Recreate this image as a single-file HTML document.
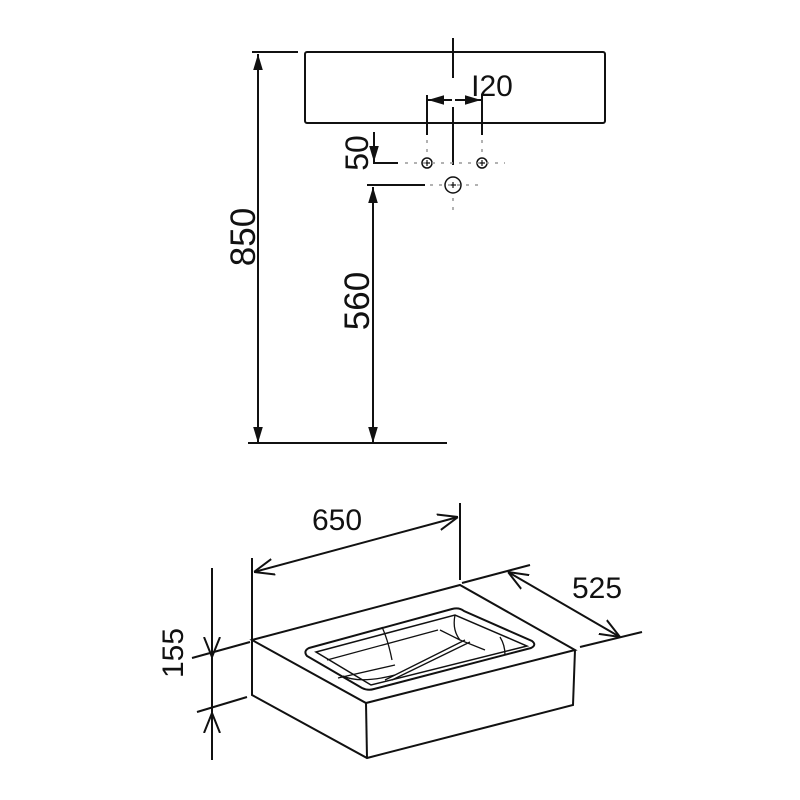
<!DOCTYPE html>
<html><head><meta charset="utf-8"><style>
html,body{margin:0;padding:0;background:#fff;}
svg{display:block}
text{font-family:"Liberation Sans",sans-serif;fill:#111}
</style></head><body>
<svg width="800" height="800" viewBox="0 0 800 800" xmlns="http://www.w3.org/2000/svg">
<defs>
<marker id="a" viewBox="0 0 10 10" refX="10" refY="5" markerWidth="8" markerHeight="8" orient="auto-start-reverse"><path d="M0,2 L10,5 L0,8 z" fill="#111"/></marker>
<marker id="o" viewBox="0 0 10 10" refX="10" refY="5" markerWidth="10" markerHeight="10" orient="auto-start-reverse"><path d="M0,1 L10,5 L0,9" fill="none" stroke="#111" stroke-width="1"/></marker>
</defs>
<g stroke="#111" stroke-width="2" fill="none">
<!-- top view -->
<rect x="305" y="52" width="300" height="71" rx="2"/>
<line x1="252" y1="52" x2="298" y2="52"/>
<line x1="258" y1="54" x2="258" y2="443" marker-start="url(#a)" marker-end="url(#a)"/>
<line x1="248" y1="443" x2="447" y2="443"/>
<line x1="373" y1="187" x2="373" y2="443" marker-start="url(#a)" marker-end="url(#a)"/>
<line x1="374" y1="132" x2="374" y2="162" marker-end="url(#a)"/>
<line x1="373" y1="163" x2="398" y2="163"/>
<line x1="367" y1="185" x2="425" y2="185"/>
<line x1="453" y1="38" x2="453" y2="78"/>
<line x1="453" y1="107" x2="453" y2="165"/>
<line x1="427" y1="95" x2="427" y2="135"/>
<line x1="482" y1="95" x2="482" y2="135"/>
<line x1="428" y1="100" x2="452" y2="100" marker-start="url(#a)"/>
<line x1="455" y1="100" x2="481" y2="100" marker-end="url(#a)"/>
<circle cx="427" cy="163" r="5" stroke-width="1.5"/>
<circle cx="482" cy="163" r="5" stroke-width="1.5"/>
<circle cx="453" cy="185" r="8" stroke-width="1.5"/>
<path d="M450 185h6M453 182v6M424 163h6M427 160v6M479 163h6M482 160v6" stroke-width="1.2"/>
<g stroke="#999" stroke-width="1.5" stroke-dasharray="3 6">
<line x1="405" y1="163" x2="505" y2="163"/>
<line x1="427" y1="140" x2="427" y2="156"/>
<line x1="482" y1="140" x2="482" y2="156"/>
<line x1="430" y1="185" x2="480" y2="185"/>
<line x1="453" y1="198" x2="453" y2="210"/>
</g>
<!-- iso box -->
<path d="M252 640 L460 585 L575 650 L366 703 Z"/>
<path d="M252 640 L252 695 L367 758 L573 705 L575 650"/>
<line x1="366" y1="703" x2="367" y2="758"/>
<!-- basin -->
<path d="M309 648 L452 609 Q459 607 464 611 L532 641 Q537 645 531 648 L374 689 Q368 691 362 688 L307 656 Q303 651 309 648 Z"/>
<path d="M316 652 L455 615 L527 646 L371 685 Z" stroke-width="1.5"/>
<path d="M327 660 L438 630 M338 678 L395 665 M455 615 Q452 630 460 640 L485 650 M440 630 L460 640 M385 680 L465 640 M392 680 L470 642 M382 627 Q388 640 392 660 M500 637 Q505 645 505 655" stroke-width="1.3"/>
<path d="M343 676 Q360 684 395 675" stroke-width="1.3"/>
<!-- 650 -->
<line x1="252" y1="558" x2="252" y2="640"/>
<line x1="460" y1="503" x2="460" y2="580"/>
<line x1="254" y1="572" x2="458" y2="517" marker-start="url(#o)" marker-end="url(#o)"/>
<!-- 525 -->
<line x1="462" y1="583" x2="530" y2="565"/>
<line x1="580" y1="647" x2="642" y2="632"/>
<line x1="508" y1="572" x2="620" y2="637" marker-start="url(#o)" marker-end="url(#o)"/>
<!-- 155 -->
<line x1="212" y1="568" x2="212" y2="760"/>
<line x1="212" y1="625" x2="212" y2="657" marker-end="url(#o)"/>
<line x1="212" y1="745" x2="212" y2="713" marker-end="url(#o)"/>
<line x1="192" y1="658" x2="250" y2="642"/>
<line x1="197" y1="712" x2="247" y2="697"/>
</g>
<text x="492" y="96" font-size="30" text-anchor="middle">I20</text>
<text transform="translate(368,153) rotate(-90)" font-size="32" text-anchor="middle">50</text>
<text transform="translate(255,237) rotate(-90)" font-size="35" text-anchor="middle">850</text>
<text transform="translate(369,301) rotate(-90)" font-size="35" text-anchor="middle">560</text>
<text x="337" y="530" font-size="30" text-anchor="middle">650</text>
<text x="597" y="598" font-size="30" text-anchor="middle">525</text>
<text transform="translate(183,653) rotate(-90)" font-size="30" text-anchor="middle">155</text>
</svg>
</body></html>
